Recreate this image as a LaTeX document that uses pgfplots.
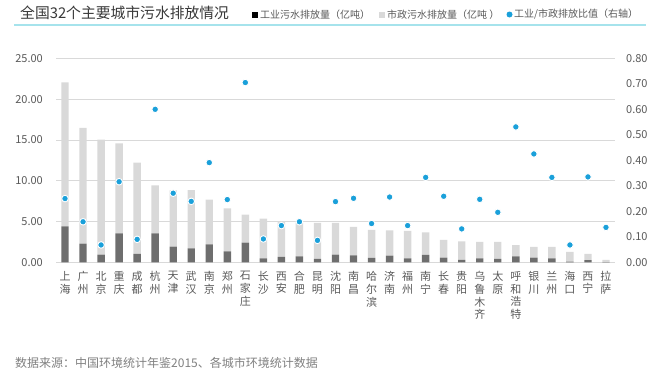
\documentclass[border=0pt]{standalone}
\usepackage{pgfplots}
\pgfplotsset{compat=1.18}
\usepackage{fontspec}
\setmainfont{Noto Sans CJK SC}
\definecolor{darkbar}{HTML}{6E6E6E}
\definecolor{lightbar}{HTML}{D9D9D9}
\definecolor{dotblue}{HTML}{1AA0DA}
\definecolor{gridc}{HTML}{D9D9D9}
\definecolor{ticktext}{HTML}{595959}
\definecolor{srctext}{HTML}{808080}
\definecolor{lineblue}{HTML}{A6E3EC}
\begin{document}
\begin{tikzpicture}
\useasboundingbox (0,0) rectangle (659pt,376pt);
% title and legend
\node[anchor=west, inner sep=0pt, text=black!78, font=\fontsize{14.8}{16}\selectfont] at (20pt,363pt) {全国32个主要城市污水排放情况};
\draw[lineblue, line width=2pt] (14pt,351pt) -- (646pt,351pt);
\fill[black] (252pt,358.5pt) rectangle (258pt,364.5pt);
\node[anchor=west, inner sep=0pt, text=ticktext, font=\fontsize{10}{12}\selectfont] at (260pt,361.5pt) {工业污水排放量（亿吨）};
\fill[lightbar] (379pt,358.5pt) rectangle (385pt,364.5pt);
\node[anchor=west, inner sep=0pt, text=ticktext, font=\fontsize{10}{12}\selectfont] at (387pt,361.5pt) {市政污水排放量（亿吨 ）};
\fill[dotblue] (509.5pt,361.5pt) circle (3pt);
\node[anchor=west, inner sep=0pt, text=ticktext, font=\fontsize{10}{12}\selectfont] at (514pt,361.5pt) {工业/市政排放比值（右轴）};
% source
\node[anchor=west, inner sep=0pt, text=srctext, font=\fontsize{12}{14}\selectfont] at (15pt,13.5pt) {数据来源：中国环境统计年鉴2015、各城市环境统计数据};
\begin{axis}[
  at={(56pt,113.7pt)}, anchor=south west,
  width=559pt, height=204pt, scale only axis,
  xmin=-0.5, xmax=30.5, ymin=0, ymax=25,
  ybar stacked, bar width=7.4pt,
  axis line style={draw=none},
  major tick length=0pt,
  ytick={0,5,10,15,20,25},
  ymajorgrids, grid style={gridc, line width=0.8pt},
  yticklabel style={/pgf/number format/fixed, /pgf/number format/fixed zerofill, /pgf/number format/precision=2, /pgf/number format/assume math mode=true, inner sep=0pt, xshift=-13pt, text=ticktext, font=\fontsize{11}{13}\selectfont},
  xtick={0,...,30},
  xticklabels={{上\\海},{广\\州},{北\\京},{重\\庆},{成\\都},{杭\\州},{天\\津},{武\\汉},{南\\京},{郑\\州},{石\\家\\庄},{长\\沙},{西\\安},{合\\肥},{昆\\明},{沈\\阳},{南\\昌},{哈\\尔\\滨},{济\\南},{福\\州},{南\\宁},{长\\春},{贵\\阳},{乌\\鲁\\木\\齐},{太\\原},{呼\\和\\浩\\特},{银\\川},{兰\\州},{海\\口},{西\\宁},{拉\\萨}},
  xticklabel style={align=center, anchor=north, inner sep=0pt, yshift=-9pt, text=ticktext, font=\fontsize{11}{12.7}\selectfont},
  clip=false,
]
\addplot[fill=darkbar, draw=none] coordinates {
(0,4.41) (1,2.29) (2,0.94) (3,3.55) (4,1.02) (5,3.55) (6,1.92) (7,1.72) (8,2.21) (9,1.35)
(10,2.41) (11,0.49) (12,0.65) (13,0.74) (14,0.41) (15,0.94) (16,0.86) (17,0.53) (18,0.82) (19,0.49)
(20,0.90) (21,0.57) (22,0.29) (23,0.49) (24,0.41) (25,0.74) (26,0.57) (27,0.49) (28,0.08) (29,0.26) (30,0.035)};
\addplot[fill=lightbar, draw=none] coordinates {
(0,17.65) (1,14.17) (2,14.09) (3,11.03) (4,11.19) (5,5.89) (6,6.90) (7,7.14) (8,5.47) (9,5.27)
(10,3.43) (11,4.86) (12,4.33) (13,4.16) (14,4.41) (15,3.88) (16,3.47) (17,3.43) (18,3.10) (19,3.35)
(20,2.78) (21,2.17) (22,2.28) (23,2.00) (24,2.08) (25,1.38) (26,1.31) (27,1.39) (28,1.19) (29,0.76) (30,0.255)};
\end{axis}
\begin{axis}[
  at={(56pt,113.7pt)}, anchor=south west,
  width=559pt, height=204pt, scale only axis,
  xmin=-0.5, xmax=30.5, ymin=0, ymax=0.8,
  axis x line=none,
  axis y line*=right,
  axis line style={draw=none},
  major tick length=0pt,
  ytick={0,0.1,0.2,0.3,0.4,0.5,0.6,0.7,0.8},
  yticklabel style={/pgf/number format/fixed, /pgf/number format/fixed zerofill, /pgf/number format/precision=2, /pgf/number format/assume math mode=true, inner sep=0pt, xshift=11pt, anchor=west, text=ticktext, font=\fontsize{11}{13}\selectfont},
  clip=false,
]
\addplot[only marks, mark=*, mark size=3.3pt, mark options={fill=dotblue, draw=white, line width=0.9pt}] coordinates {
(0,0.250) (1,0.159) (2,0.068) (3,0.316) (4,0.090) (5,0.600) (6,0.271) (7,0.239) (8,0.391) (9,0.246)
(10,0.705) (11,0.0915) (12,0.144) (13,0.159) (14,0.086) (15,0.238) (16,0.251) (17,0.152) (18,0.256) (19,0.144)
(20,0.333) (21,0.259) (22,0.131) (23,0.247) (24,0.196) (25,0.531) (26,0.425) (27,0.333) (28,0.068) (29,0.335) (30,0.137)};
\end{axis}
\end{tikzpicture}
\end{document}
